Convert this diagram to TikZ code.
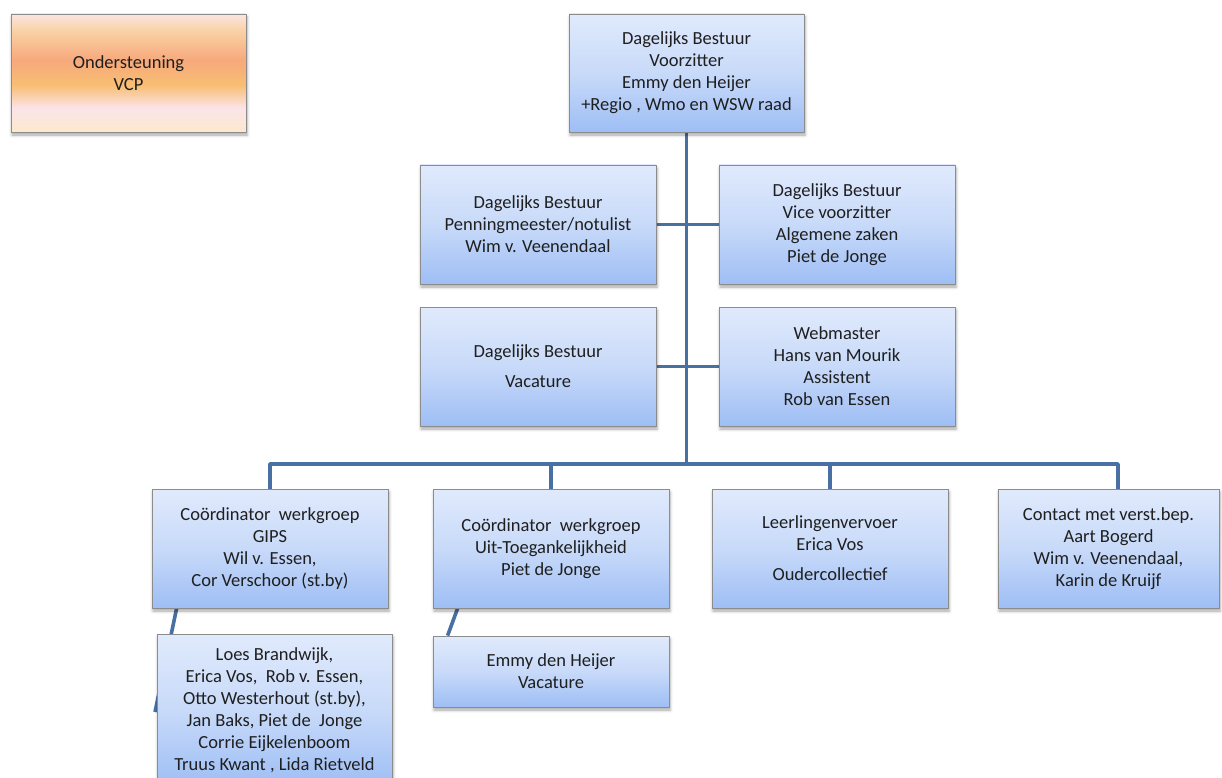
\documentclass[tikz,border=0pt]{standalone}
\usepackage{fontspec}
\setmainfont{Carlito}
\usetikzlibrary{shadows.blur,backgrounds,calc}
\definecolor{linec}{RGB}{72,112,162}
\definecolor{bordc}{RGB}{140,140,140}
\definecolor{btop}{RGB}{224,234,252}
\definecolor{bmid}{RGB}{200,218,249}
\definecolor{bbot}{RGB}{158,190,245}
\definecolor{oa}{RGB}{251,229,227}
\definecolor{ob}{RGB}{249,210,165}
\definecolor{oc}{RGB}{247,169,124}
\definecolor{od}{RGB}{248,190,114}
\definecolor{oe}{RGB}{251,228,234}
\definecolor{of}{RGB}{252,233,204}
\pgfdeclareverticalshading{orangestripe}{100bp}{color(0bp)=(of); color(25bp)=(of); color(35bp)=(oe); color(45bp)=(od); color(55.5bp)=(oc); color(68bp)=(ob); color(75bp)=(oa); color(100bp)=(oa)}
\tikzset{
  box/.style={draw=bordc, line width=0.8pt, inner sep=0pt, align=center,
    minimum width=236pt, minimum height=119pt,
    font=\fontsize{18.5}{22}\selectfont, text=black!88,
    blur shadow={shadow xshift=1pt, shadow yshift=-3pt, shadow blur radius=3pt, shadow opacity=35}},
  bluebox/.style={box, top color=btop, bottom color=bbot, middle color=bmid},
  orangebox/.style={box, shading=orangestripe},
  conn/.style={draw=linec, line width=3.6pt, line join=round}
}
\begin{document}
\begin{tikzpicture}[x=1pt,y=-1pt]
\useasboundingbox (0,0) rectangle (1222,778);
\node[orangebox, minimum width=235pt, minimum height=118pt] (ond) at (128.5,73) {Ondersteuning\\VCP};
\node[bluebox, minimum width=235pt, minimum height=118pt] (top) at (686.5,73) {Dagelijks Bestuur\\Voorzitter\\Emmy den Heijer\\+Regio , Wmo en WSW raad};
\node[bluebox] (db1) at (538,224.5) {Dagelijks Bestuur\\Penningmeester/notulist\\Wim v. Veenendaal};
\node[bluebox] (db2) at (837,224.5) {Dagelijks Bestuur\\Vice voorzitter\\Algemene zaken\\Piet de Jonge};
\node[bluebox] (db3) at (538,366.5) {Dagelijks Bestuur\\[8pt]Vacature};
\node[bluebox] (web) at (837,366.5) {Webmaster\\Hans van Mourik\\Assistent\\Rob van Essen};
\node[bluebox] (b1) at (270,548.5) {Coördinator\ \ werkgroep\\GIPS\\Wil v. Essen,\\Cor Verschoor (st.by)};
\node[bluebox] (b2) at (551,548.5) {Coördinator\ \ werkgroep\\Uit-Toegankelijkheid\\Piet de Jonge};
\node[bluebox] (b3) at (830,548.5) {Leerlingenvervoer\\Erica Vos\\[8pt]Oudercollectief};
\node[bluebox, minimum width=221pt] (b4) at (1108.5,548.5) {Contact met verst.bep.\\Aart Bogerd\\Wim v. Veenendaal,\\Karin de Kruijf};
\node[bluebox, minimum width=235pt, minimum height=152pt] (s1) at (274.5,710) {Loes Brandwijk,\\Erica Vos,\ \ Rob v. Essen,\\Otto Westerhout (st.by),\\Jan Baks, Piet de\ \ Jonge\\Corrie Eijkelenboom\\Truus Kwant , Lida Rietveld};
\node[bluebox, minimum height=71pt] (s2) at (551,671.5) {Emmy den Heijer\\Vacature};
\coordinate (trunkend) at (686.5,464);
\coordinate (busL) at (270,464);
\coordinate (busR) at (1118,464);
\coordinate (s1end) at (155,712);
\begin{pgfonlayer}{background}
\draw[conn] (top.south) -- (trunkend);
\draw[conn] (db1.east) -- (db2.west);
\draw[conn] (db3.east) -- (web.west);
\draw[conn] (b1.north) -- (busL) -- (busR) -- (busR |- b4.north);
\draw[conn] (b2.north) -- (b2.north |- busL);
\draw[conn] (b3.north) -- (b3.north |- busL);
\draw[conn] ($(b1.south west)+(25,0)$) -- (s1end);
\draw[conn] ($(b2.south west)+(25,0)$) -- ($(s2.north west)+(15,0)$);
\end{pgfonlayer}
\end{tikzpicture}
\end{document}
